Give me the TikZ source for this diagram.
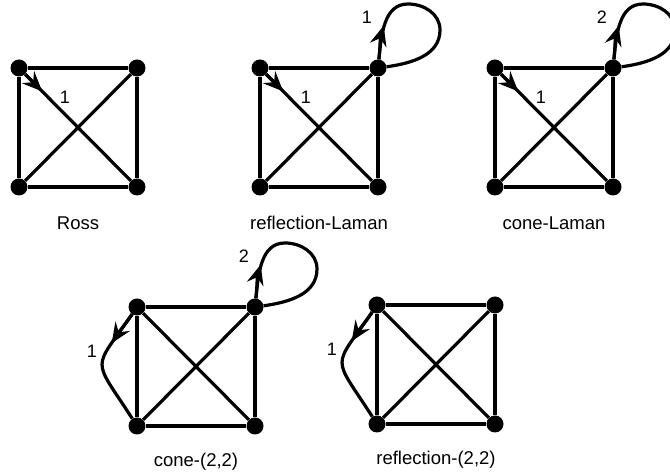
\documentclass[tikz,border=0pt]{standalone}
\usepackage{fontspec}
\setmainfont{Liberation Sans}
\usetikzlibrary{arrows.meta,calc}

\begin{document}
\begin{tikzpicture}[x=1pt,y=1pt,>={Stealth[length=20pt,width=17pt,inset=7pt]},
  vertex/.style={circle,fill=black,inner sep=0pt,minimum size=17pt},
  edge/.style={line width=3.2pt},
  weight/.style={inner sep=0pt,font=\fontsize{18}{21}\selectfont},
  gname/.style={inner sep=0pt,font=\fontsize{18.5}{22}\selectfont}]
  \useasboundingbox (0,0) rectangle (670,476);
  % the five graphs, K4 drawn as a square with both diagonals
  \foreach \g/\x/\y/\txt in {ross/19/289/Ross,rlam/260/289/reflection-Laman,clam/495/289/cone-Laman,ctt/137/50/{cone-(2,2)},rtt/377/52/{reflection-(2,2)}}{
    \node[vertex] (\g-bl) at (\x,\y) {};
    \node[vertex] (\g-br) at (\x+118,\y) {};
    \node[vertex] (\g-tl) at (\x,\y+119) {};
    \node[vertex] (\g-tr) at (\x+118,\y+119) {};
    \draw[edge] (\g-tl) -- (\g-tr) -- (\g-br) -- (\g-bl) -- (\g-tl);
    \draw[edge] (\g-tl) -- (\g-br) (\g-tr) -- (\g-bl);
    \node[gname] (\g-name) at ($(\g-bl)!.5!(\g-br)+(0,-36)$) {\txt};
  }
  % weighted diagonal
  \foreach \g in {ross,rlam,clam}{
    \coordinate (\g-hd) at ($(\g-tl)!33pt!(\g-br)$);
    \draw[edge,->] (\g-tl) -- (\g-hd);
    \node[weight] (\g-wd) at ($(\g-tl)+(46,-29)$) {1};
  }
  % loops at the top right vertex
  \foreach \g/\w in {rlam/1,clam/2,ctt/2}{
    \draw[edge] (\g-tr) to[out=84,in=180] ($(\g-tr)+(30,64)$) to[out=0,in=90] ($(\g-tr)+(62,38)$) to[out=-90,in=8] (\g-tr);
    \coordinate (\g-hl) at ($(\g-tr)+(5.7,42.3)$);
    \draw[edge,->] (\g-tr) to[out=84,in=-106] (\g-hl);
    \node[weight] (\g-wl) at ($(\g-tr)+(-11,51)$) {\w};
  }
  % doubled left edge
  \foreach \g in {ctt,rtt}{
    \draw[edge] (\g-tl) .. controls +(-45,-65) and +(-45,70) .. (\g-bl);
    \coordinate (\g-hb) at ($(\g-tl)+(-25.3,-36.2)$);
    \draw[edge,->] (\g-tl) to[out=-124,in=57] (\g-hb);
    \node[weight] (\g-wb) at ($(\g-tl)+(-45,-44)$) {1};
  }
\end{tikzpicture}
\end{document}
